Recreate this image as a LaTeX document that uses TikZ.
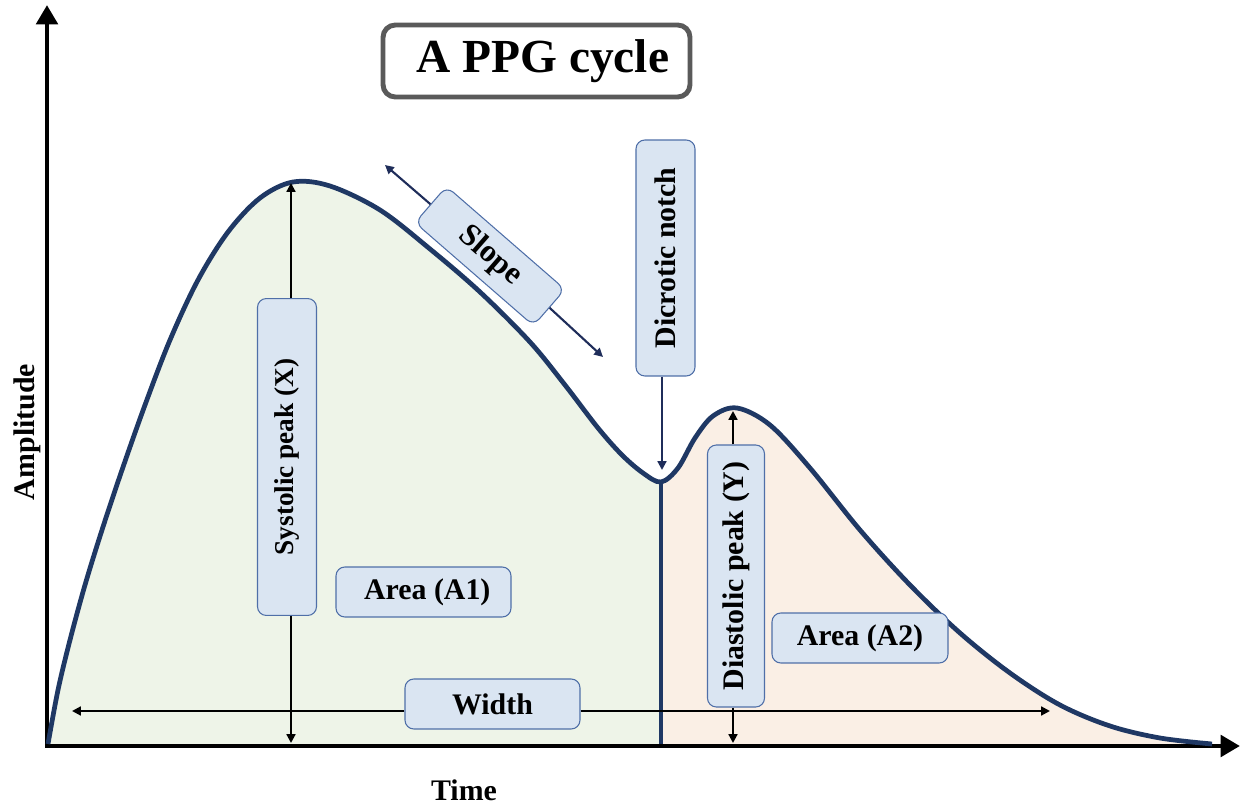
\documentclass[tikz,border=0pt]{standalone}
\usepackage{fontspec}
\setmainfont{Liberation Serif}
\usetikzlibrary{arrows.meta}
\definecolor{navy}{RGB}{31,56,100}
\definecolor{arrownavy}{RGB}{31,45,90}
\definecolor{greenfill}{RGB}{238,244,232}
\definecolor{pinkfill}{RGB}{250,239,229}
\definecolor{boxfill}{RGB}{218,229,242}
\definecolor{boxborder}{RGB}{79,111,168}
\definecolor{titlegray}{RGB}{90,90,90}
\begin{document}
\begin{tikzpicture}[x=0.02cm,y=-0.02cm,
  axisline/.style={line width=2.8pt, line join=miter, {Triangle[length=11pt,width=12pt]}-{Triangle[length=11pt,width=12pt]}},
  curveline/.style={draw=navy, line width=2.7pt, line join=round},
  dimarrow/.style={line width=1.2pt, -{Triangle[length=5pt,width=5pt]}},
  navyarrow/.style={draw=arrownavy, line width=1.2pt, -{Triangle[length=5pt,width=5pt]}},
  labelbox/.style={draw=boxborder, fill=boxfill, rounded corners=5pt, line width=0.6pt,
    font=\fontsize{17}{20}\selectfont\bfseries, inner sep=0pt},
  axislabel/.style={font=\fontsize{17}{20}\selectfont\bfseries, inner sep=0pt},
  titlebox/.style={draw=titlegray, fill=white, rounded corners=7pt, line width=2.8pt,
    font=\fontsize{27}{32}\selectfont\bfseries, inner sep=0pt}
]
\useasboundingbox (0,0) rectangle (1242,804);

% coordinates
\coordinate (origin) at (47,746);
\coordinate (ytop) at (47,5);
\coordinate (xend) at (1240,746);
\coordinate (speak) at (291,183);
\coordinate (sbase) at (291,743);
\coordinate (dpeak) at (733,411);
\coordinate (dbase) at (733,743);
\coordinate (notch) at (661,482);
\coordinate (notchtip) at (662,470);
\coordinate (wl) at (72,711);
\coordinate (wr) at (1050,711);
\coordinate (s1) at (385,165);
\coordinate (s2) at (603,357);

% green area
\fill[greenfill] (48,746) -- plot[smooth, tension=0.55] coordinates {(48,744) (58,690) (70,640) (85,585) (102,530) (122,470) (145,405) (170,340) (198,280) (228,232) (260,198) (293,182) (330,186) (380,210) (430,249) (480,292) (530,342) (565,385) (598,428) (622,455) (643,473) (661,482) (678,468) (695,438) (713,416) (737,408) (770,425) (810,468) (860,530) (910,585) (960,633) (1010,673) (1060,705) (1110,726) (1160,738) (1212,744)} -- (1212,746) -- cycle;
% pink area
\begin{scope}
\clip (661,0) rectangle (1242,746);
\fill[pinkfill] (48,746) -- plot[smooth, tension=0.55] coordinates {(48,744) (58,690) (70,640) (85,585) (102,530) (122,470) (145,405) (170,340) (198,280) (228,232) (260,198) (293,182) (330,186) (380,210) (430,249) (480,292) (530,342) (565,385) (598,428) (622,455) (643,473) (661,482) (678,468) (695,438) (713,416) (737,408) (770,425) (810,468) (860,530) (910,585) (960,633) (1010,673) (1060,705) (1110,726) (1160,738) (1212,744)} -- (1212,746) -- cycle;
\end{scope}

% divider
\draw[draw=navy, line width=2.2pt] (notch) -- (notch |- origin);

% axes
\draw[axisline] (ytop) -- (origin) -- (xend);

% curve
\draw[curveline] plot[smooth, tension=0.55] coordinates {(48,744) (58,690) (70,640) (85,585) (102,530) (122,470) (145,405) (170,340) (198,280) (228,232) (260,198) (293,182) (330,186) (380,210) (430,249) (480,292) (530,342) (565,385) (598,428) (622,455) (643,473) (661,482) (678,468) (695,438) (713,416) (737,408) (770,425) (810,468) (860,530) (910,585) (960,633) (1010,673) (1060,705) (1110,726) (1160,738) (1212,744)};

% title
\node[titlebox, minimum width=6.14cm, minimum height=1.44cm] (title) at (536.5,61) {\hspace{0.25cm}A PPG cycle};

% label boxes
\node[labelbox, rotate=90, minimum width=6.34cm, minimum height=1.18cm, font=\fontsize{15.5}{18}\selectfont\bfseries] (sys) at (287,457) {Systolic peak (X)};
\node[labelbox, rotate=90, minimum width=4.72cm, minimum height=1.18cm] (dic) at (665.5,258) {Dicrotic notch};
\node[labelbox, rotate=90, minimum width=5.24cm, minimum height=1.14cm] (dia) at (736,576) {Diastolic peak (Y)};
\node[labelbox, minimum width=3.5cm, minimum height=1.0cm] (a1) at (423.5,592) {\hspace{0.15cm}Area (A1)};
\node[labelbox, minimum width=3.5cm, minimum height=1.0cm] (wid) at (492.5,704) {Width};
\node[labelbox, minimum width=3.52cm, minimum height=1.0cm] (a2) at (860,638) {Area (A2)};
\node[labelbox, rotate=-41, minimum width=3.14cm, minimum height=0.96cm, font=\fontsize{18}{21}\selectfont\bfseries] (slope) at (490,256) {Slope};

% axis labels
\node[axislabel, rotate=90] (amp) at (27,432) {Amplitude};
\node[axislabel] (time) at (464,790) {Time};

% dimension arrows
\draw[dimarrow] (sys.east -| speak) -- (speak);
\draw[dimarrow] (sys.west -| sbase) -- (sbase);
\draw[dimarrow] (dia.east -| dpeak) -- (dpeak);
\draw[dimarrow] (dia.west -| dbase) -- (dbase);
\draw[dimarrow] (wid.west |- wl) -- (wl);
\draw[dimarrow] (wid.east |- wr) -- (wr);
\draw[navyarrow] (dic.west -| notchtip) -- (notchtip);
\draw[navyarrow] (slope.west) -- (s1);
\draw[navyarrow] (slope.east) -- (s2);
\end{tikzpicture}
\end{document}
